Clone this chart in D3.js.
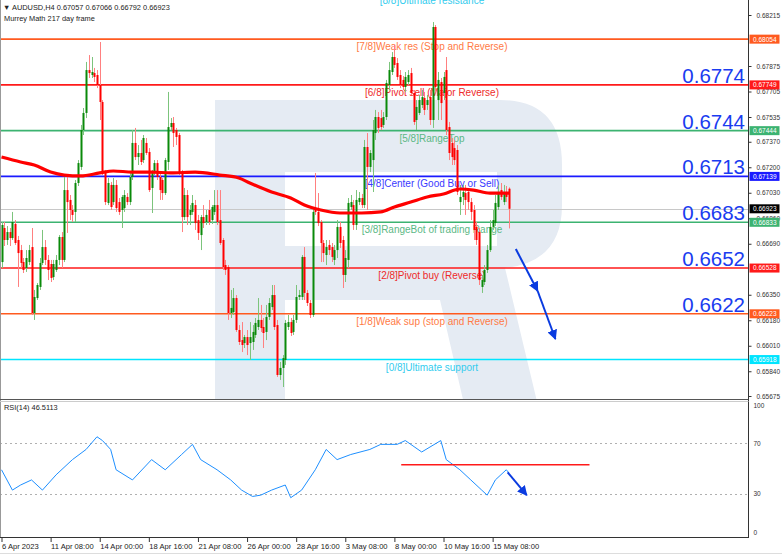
<!DOCTYPE html>
<html><head><meta charset="utf-8">
<script src="https://cdn.jsdelivr.net/npm/d3@7"></script>
<style>body{margin:0;background:#fff;}svg{display:block;}</style>
</head><body>
<svg id="chart" width="782" height="554"></svg>
<script>
// ---------- DATA ----------
// candles: [open, high, low, close]  (AUDUSD H4)
const candles = [
[0.66568,0.66835,0.66528,0.66815],[0.66795,0.66835,0.66675,0.66715],[0.66715,0.66808,0.66682,0.66768],[0.66768,0.66795,0.66675,0.66728],
[0.66728,0.66902,0.66715,0.66835],[0.66822,0.66848,0.66682,0.66695],[0.66715,0.66742,0.66402,0.66628],[0.66648,0.66682,0.66528,0.66562],
[0.66568,0.66595,0.66495,0.66515],[0.66528,0.66648,0.66502,0.66595],[0.66568,0.66682,0.66548,0.66648],[0.66668,0.66795,0.66215,0.66228],
[0.66228,0.66382,0.66182,0.66335],[0.66328,0.66428,0.66315,0.66415],[0.66402,0.66595,0.66382,0.66562],[0.66562,0.66782,0.66548,0.66668],
[0.66668,0.66715,0.66548,0.66582],[0.66582,0.66615,0.66448,0.66515],[0.66555,0.66582,0.66435,0.66462],[0.66468,0.66582,0.66448,0.66555],
[0.66515,0.66615,0.66502,0.66582],[0.66582,0.66748,0.66548,0.66735],[0.66735,0.66768,0.66528,0.66582],[0.66582,0.67135,0.66568,0.67048],
[0.67048,0.67135,0.66762,0.66968],[0.66982,0.67015,0.66848,0.66915],[0.66915,0.66948,0.66835,0.66882],[0.66902,0.67115,0.66835,0.67095],
[0.67095,0.67248,0.67075,0.67228],[0.67202,0.67482,0.67182,0.67448],[0.67448,0.67595,0.67415,0.67562],[0.67562,0.67902,0.67528,0.67848],
[0.67848,0.67948,0.67795,0.67828],[0.67815,0.67935,0.67795,0.67835],[0.67828,0.67862,0.67768,0.67802],[0.67815,0.67848,0.67728,0.67748],
[0.67748,0.68035,0.67515,0.67635],[0.67635,0.67648,0.67148,0.67168],[0.67168,0.67182,0.66948,0.66968],[0.66962,0.67128,0.66948,0.67095],
[0.67082,0.67102,0.66915,0.66935],[0.66968,0.67128,0.66948,0.67082],[0.67082,0.67115,0.66902,0.66928],[0.66968,0.66995,0.66882,0.66902],
[0.66915,0.67015,0.66795,0.67002],[0.66928,0.67048,0.66902,0.67015],[0.67002,0.67028,0.66948,0.66968],[0.66968,0.67168,0.66948,0.67135],
[0.67135,0.67448,0.67115,0.67362],[0.67362,0.67462,0.67248,0.67268],[0.67268,0.67348,0.67215,0.67295],[0.67295,0.67382,0.67215,0.67235],
[0.67248,0.67415,0.67228,0.67395],[0.67362,0.67395,0.67282,0.67295],[0.67302,0.67328,0.67035,0.67048],[0.67062,0.67182,0.66895,0.67162],
[0.67162,0.67248,0.67148,0.67228],[0.67228,0.67248,0.67115,0.67135],[0.67135,0.67162,0.66982,0.67048],[0.67115,0.67128,0.66982,0.67028],
[0.67028,0.67262,0.67015,0.67248],[0.67235,0.67702,0.67182,0.67468],[0.67468,0.67528,0.67448,0.67495],[0.67495,0.67535,0.67335,0.67428],
[0.67448,0.67462,0.67348,0.67402],[0.67415,0.67428,0.67148,0.67162],[0.67162,0.67182,0.66768,0.66868],[0.66868,0.67062,0.66848,0.67015],
[0.67015,0.67048,0.66815,0.66868],[0.66882,0.66948,0.66815,0.66915],[0.66902,0.67015,0.66882,0.66962],[0.66948,0.66982,0.66782,0.66828],
[0.66848,0.66882,0.66715,0.66762],[0.66748,0.66882,0.66648,0.66868],[0.66868,0.66948,0.66795,0.66828],[0.66835,0.66915,0.66815,0.66882],
[0.66915,0.66982,0.66815,0.66835],[0.66848,0.66948,0.66822,0.66935],[0.66902,0.67048,0.66882,0.66948],[0.66948,0.67048,0.66815,0.66835],
[0.66848,0.67048,0.66682,0.66695],[0.66715,0.66728,0.66515,0.66535],[0.66548,0.66582,0.66482,0.66515],[0.66535,0.66548,0.66182,0.66228],
[0.66228,0.66382,0.66195,0.66262],[0.66235,0.66395,0.66215,0.66328],[0.66328,0.66348,0.66102,0.66115],[0.66115,0.66148,0.66015,0.66035],
[0.66048,0.66168,0.65968,0.66015],[0.66028,0.66082,0.65995,0.66068],[0.66068,0.66115,0.65948,0.66015],[0.66028,0.66168,0.65915,0.66068],
[0.66035,0.66148,0.65982,0.66102],[0.66082,0.66195,0.66062,0.66162],[0.66135,0.66328,0.66115,0.66182],[0.66182,0.66282,0.66102,0.66128],
[0.66135,0.66195,0.65995,0.66095],[0.66102,0.66282,0.66048,0.66202],[0.66202,0.66328,0.66182,0.66295],[0.66268,0.66415,0.66248,0.66348],
[0.66348,0.66415,0.66115,0.66135],[0.66148,0.66182,0.65802,0.65815],[0.65815,0.65902,0.65782,0.65862],[0.65862,0.65948,0.65735,0.65928],
[0.65915,0.66182,0.65882,0.66162],[0.66135,0.66215,0.66115,0.66168],[0.66168,0.66195,0.66075,0.66095],[0.66102,0.66215,0.66082,0.66182],
[0.66182,0.66415,0.66162,0.66335],[0.66335,0.66382,0.66315,0.66348],[0.66335,0.66615,0.66315,0.66602],[0.66602,0.66668,0.66315,0.66362],
[0.66362,0.66382,0.66275,0.66295],[0.66295,0.66315,0.66195,0.66215],[0.66215,0.66928,0.66202,0.66902],[0.66915,0.67162,0.66882,0.66902],
[0.66902,0.67028,0.66808,0.66828],[0.66835,0.66848,0.66568,0.66695],[0.66695,0.66715,0.66568,0.66628],[0.66615,0.66715,0.66548,0.66668],
[0.66682,0.66715,0.66615,0.66648],[0.66668,0.66695,0.66568,0.66602],[0.66582,0.66682,0.66548,0.66648],[0.66648,0.66848,0.66595,0.66802],
[0.66802,0.66835,0.66662,0.66695],[0.66715,0.66742,0.66395,0.66482],[0.66482,0.66648,0.66435,0.66595],[0.66582,0.66995,0.66528,0.66962],
[0.66935,0.67015,0.66915,0.66968],[0.66948,0.66982,0.66782,0.66815],[0.66815,0.67048,0.66782,0.66982],[0.66968,0.67035,0.66948,0.66995],
[0.66995,0.67022,0.66928,0.66948],[0.66948,0.67382,0.66928,0.67335],[0.67335,0.67428,0.66915,0.67202],[0.67202,0.67315,0.67168,0.67295],
[0.67248,0.67515,0.67035,0.67448],[0.67428,0.67582,0.67382,0.67535],[0.67535,0.67568,0.67428,0.67462],[0.67528,0.67582,0.67448,0.67468],
[0.67482,0.67568,0.67462,0.67535],[0.67535,0.67782,0.67515,0.67762],[0.67748,0.67902,0.67715,0.67848],[0.67835,0.67968,0.67815,0.67935],
[0.67935,0.68015,0.67862,0.67882],[0.67895,0.67928,0.67782,0.67802],[0.67815,0.67848,0.67728,0.67748],[0.67782,0.67808,0.67715,0.67735],
[0.67735,0.67835,0.67702,0.67802],[0.67768,0.67848,0.67748,0.67815],[0.67828,0.67862,0.67682,0.67695],[0.67695,0.67715,0.67482,0.67502],
[0.67515,0.67648,0.67448,0.67602],[0.67562,0.67682,0.67548,0.67648],[0.67615,0.67715,0.67595,0.67668],[0.67662,0.67702,0.67548,0.67582],
[0.67615,0.67682,0.67582,0.67648],[0.67668,0.67715,0.67482,0.67515],[0.67515,0.68168,0.67462,0.68135],[0.68135,0.68148,0.67702,0.67735],
[0.67648,0.67835,0.67515,0.67782],[0.67768,0.67795,0.67515,0.67628],[0.67695,0.67835,0.67648,0.67802],[0.67848,0.67935,0.67415,0.67448],
[0.67468,0.67502,0.67248,0.67295],[0.67362,0.67395,0.67215,0.67268],[0.67328,0.67382,0.67215,0.67248],[0.67315,0.67348,0.67015,0.67035],
[0.66968,0.67082,0.66882,0.67002],[0.67002,0.67082,0.66948,0.67035],[0.67028,0.67082,0.66882,0.66982],[0.67035,0.67062,0.66915,0.66968],
[0.66968,0.66995,0.66848,0.66902],[0.66915,0.66948,0.66715,0.66782],[0.66802,0.66835,0.66682,0.66715],[0.66768,0.66795,0.66415,0.66448],
[0.66402,0.66482,0.66362,0.66448],[0.66435,0.66548,0.66415,0.66515],[0.66515,0.66682,0.66495,0.66648],[0.66648,0.66848,0.66635,0.66802],
[0.66802,0.66915,0.66782,0.66848],[0.66828,0.67015,0.66808,0.66962],[0.66935,0.67082,0.66915,0.67028],[0.67048,0.67095,0.66982,0.67002],
[0.66968,0.67082,0.66948,0.67035],[0.67035,0.67075,0.66968,0.67002],[0.67057,0.67066,0.66792,0.66923]
];
// moving average (217) sampled at bar indices
const maIdx = [0,7,12,18,23,29,36,41,48,55,62,71,80,87,91,99,106,111,117,124,132,139,144,150,156,162,168,173,179,186];
const maVal = [0.67268,0.67235,0.67215,0.67168,0.67148,0.67142,0.67162,0.67175,0.67168,0.67168,0.67162,0.67168,0.67148,0.67128,0.67095,0.67035,0.66995,0.66948,0.66915,0.66895,0.66895,0.66902,0.66935,0.66968,0.67002,0.67022,0.67055,0.67048,0.67028,0.67028];
// RSI(14) sampled at bar indices
const rsiIdx = [0,4,7,11,15,20,26,31,35,37,40,42,48,55,60,66,70,73,79,84,88,92,95,99,104,106,110,115,119,123,128,135,139,145,148,154,161,163,168,172,176,178,181,185,186];
const rsiVal = [49,33,37,41,33,45,57,65,75,72,65,49,41,57,49,61,69,57,49,41,33,28,29,33,37,27,33,49,65,57,61,65,69,69,72,63,72,57,49,41,33,29,41,49,46.5];
// Murrey Math levels
const mmLevels = [0.68359,0.68054,0.67749,0.67444,0.67139,0.66833,0.66528,0.66223,0.65918];
const mmNames = ["[8/8]Ultimate resistance","[7/8]Weak res (Stop and Reverse)","[6/8]Pivot sell (Major Reverse)","[5/8]RangeTop","[4/8]Center (Good Buy or Sell)","[3/8]RangeBot of trading Range","[2/8]Pivot buy (Reverse)","[1/8]Weak sup (stop and Reverse)","[0/8]Ultimate support"];
const mmColors = ["#00e5ff","#ff5a1f","#ff1a1a","#3cb371","#1a1aff","#3cb371","#ff1a1a","#ff5a1f","#00e5ff"];
const mmTextColors = ["#33ccee","#ff7a45","#ee2a2a","#5cb885","#3a3aff","#5cb885","#ee2a2a","#ff7a45","#33ccee"];
const bigLabels = ["0.6774","0.6744","0.6713","0.6683","0.6652","0.6622"];
const bigLevels = [0.67749,0.67444,0.67139,0.66833,0.66528,0.66223];
const priceTicks = [0.68215,0.67875,0.67705,0.67535,0.67370,0.67200,0.67030,0.66860,0.66690,0.66350,0.66180,0.66010,0.65840,0.65675];
const currentPrice = 0.66923;
const timeLabels = ["6 Apr 2023","11 Apr 08:00","14 Apr 00:00","18 Apr 16:00","21 Apr 08:00","26 Apr 00:00","28 Apr 16:00","3 May 08:00","8 May 00:00","10 May 16:00","15 May 08:00"];
const timeIdx = [0,18,36,54,72,90,108,126,144,162,180];
const rsiTicks = [100,70,30,0];
const rsiLevels = [70,30];
// annotations (bar index, value)
const arrowMain = [[188.5,0.66655],[196.5,0.66375],[203,0.66055]];
const rsiRedLine = [[146.5,53],[215.5,53]];
const arrowRsi = [[185.5,47],[192.5,29]];

// ---------- CHART ----------
const svg = d3.select("#chart");
const W = 782, axisX = 748.5;
const n = candles.length;
const x = d3.scaleLinear().domain([0, n-1]).range([1.5, 509]);
const y = d3.scaleLinear().domain([0.68215, 0.65675]).range([15, 396]);
const yr = d3.scaleLinear().domain([0, 100]).range([532, 405]);
const hf = "Liberation Sans, Arial, sans-serif";

const defs = svg.append("defs");
defs.append("clipPath").attr("id","mainClip").append("rect").attr("x",0).attr("y",0).attr("width",axisX).attr("height",399);
defs.append("clipPath").attr("id","rsiClip").append("rect").attr("x",0).attr("y",401).attr("width",axisX).attr("height",136);
defs.append("marker").attr("id","arrBlue").attr("viewBox","0 0 10 10").attr("refX",9).attr("refY",5)
  .attr("markerWidth",5).attr("markerHeight",5).attr("orient","auto")
  .append("path").attr("d","M0,0 L10,5 L0,10 z").attr("fill","#0a3be0");

// watermark
const main = svg.append("g").attr("clip-path","url(#mainClip)");
main.append("path")
  .attr("d","M215,100 H500 Q562,100 562,165 V205 Q562,262 505,268 L575,560 H500 L440,300 H285 V560 H215 Z M285,172 V246 H497 V172 Z")
  .attr("fill","#e5ebf3").attr("fill-rule","evenodd");

// MM level lines
mmLevels.forEach((v,i)=>{
  main.append("line").attr("x1",0).attr("x2",axisX).attr("y1",y(v)).attr("y2",y(v))
    .attr("stroke",mmColors[i]).attr("stroke-width",1.6);
});
// current price line
main.append("line").attr("x1",0).attr("x2",axisX).attr("y1",Math.round(y(currentPrice))+0.5).attr("y2",Math.round(y(currentPrice))+0.5)
  .attr("stroke","#c8c8c8").attr("stroke-width",1);

// level texts
mmLevels.forEach((v,i)=>{
  main.append("text").attr("x",432).attr("y",y(v)+11).attr("text-anchor","middle")
    .attr("font-family",hf).attr("font-size",10)
    .attr("fill",mmTextColors[i]).text(mmNames[i]);
});

// candles
const cg = main.append("g");
candles.forEach((c,i)=>{
  const [o,h,l,cl] = c;
  const up = cl >= o;
  const xc = Math.round(x(i)) + 0.5;
  cg.append("line").attr("x1",xc).attr("x2",xc).attr("y1",y(h)).attr("y2",y(l))
    .attr("stroke", up ? "#7cc47c" : "#ff8080").attr("stroke-width",1);
  const top = y(Math.max(o,cl)), bot = y(Math.min(o,cl));
  cg.append("rect").attr("x",xc-1).attr("y",top).attr("width",2).attr("height",Math.max(1,bot-top))
    .attr("fill", up ? "#0a8a0a" : "#ff0000");
});

// MA line
main.append("path").datum(maIdx.map((d,i)=>[d,maVal[i]]))
  .attr("d", d3.line().x(d=>x(d[0])).y(d=>y(d[1])).curve(d3.curveMonotoneX))
  .attr("fill","none").attr("stroke","#ff0000").attr("stroke-width",3.2);

// big labels
bigLabels.forEach((t,i)=>{
  main.append("text").attr("x",745).attr("y",y(bigLevels[i])-2).attr("text-anchor","end")
    .attr("font-family",hf).attr("font-size",20.5)
    .attr("fill","#1a3cf0").text(t);
});

// main arrow
[arrowMain.slice(0,2), arrowMain.slice(1)].forEach(seg=>{
  svg.append("path").datum(seg)
    .attr("d", d3.line().x(d=>x(d[0])).y(d=>y(d[1])))
    .attr("stroke","#0a3be0").attr("stroke-width",2).attr("fill","none").attr("marker-end","url(#arrBlue)");
});

// header texts
svg.append("text").attr("x",3).attr("y",10).attr("font-family",hf).attr("font-size",7.4).attr("fill","#222")
  .text("\u25BC AUDUSD,H4  0.67057 0.67066 0.66792 0.66923");
svg.append("text").attr("x",4).attr("y",21).attr("font-family",hf).attr("font-size",7.4).attr("fill","#222")
  .text("Murrey Math 217 day frame");

// ---------- RSI panel ----------
const rg = svg.append("g").attr("clip-path","url(#rsiClip)");
rsiLevels.forEach(v=>{
  rg.append("line").attr("x1",0).attr("x2",axisX).attr("y1",Math.round(yr(v))+0.5).attr("y2",Math.round(yr(v))+0.5)
    .attr("stroke","#b0b0b0").attr("stroke-dasharray","2,3");
});
rg.append("path").datum(rsiIdx.map((d,i)=>[d,rsiVal[i]]))
  .attr("d", d3.line().x(d=>x(d[0])).y(d=>yr(d[1])))
  .attr("fill","none").attr("stroke","#1e8fff").attr("stroke-width",1);
rg.append("path").datum(rsiRedLine)
  .attr("d", d3.line().x(d=>x(d[0])).y(d=>yr(d[1])))
  .attr("stroke","#ff1a1a").attr("stroke-width",1.6);
svg.append("path").datum(arrowRsi)
  .attr("d", d3.line().x(d=>x(d[0])).y(d=>yr(d[1])))
  .attr("stroke","#0a3be0").attr("stroke-width",2).attr("fill","none").attr("marker-end","url(#arrBlue)");
svg.append("text").attr("x",4).attr("y",410).attr("font-family",hf).attr("font-size",7.4).attr("fill","#222")
  .text("RSI(14) 46.5113");

// ---------- frames & axes ----------
svg.append("line").attr("x1",0.5).attr("x2",0.5).attr("y1",0).attr("y2",538).attr("stroke","#999").attr("stroke-width",1);
svg.append("line").attr("x1",axisX).attr("x2",axisX).attr("y1",0).attr("y2",538).attr("stroke","#333");
svg.append("line").attr("x1",0).attr("x2",axisX).attr("y1",399.5).attr("y2",399.5).attr("stroke","#555");
svg.append("line").attr("x1",0).attr("x2",axisX).attr("y1",401.5).attr("y2",401.5).attr("stroke","#ccc");
svg.append("line").attr("x1",0).attr("x2",axisX).attr("y1",537.5).attr("y2",537.5).attr("stroke","#333");
svg.append("line").attr("x1",0).attr("x2",W).attr("y1",553.5).attr("y2",553.5).attr("stroke","#ddd");

// price axis
const pa = svg.append("g").attr("transform",`translate(${axisX},0)`)
  .call(d3.axisRight(y).tickValues(priceTicks).tickSize(3).tickPadding(5).tickFormat(d3.format(".5f")));
pa.select(".domain").remove();
pa.selectAll("text").attr("font-family",hf).attr("font-size",6.5).attr("fill","#333");
pa.selectAll("line").attr("stroke","#333");

// level value boxes
const boxVals = mmLevels.slice(1).concat([currentPrice]);
const boxCols = mmColors.slice(1).concat(["#000"]);
boxVals.forEach((v,i)=>{
  const yy = y(v);
  svg.append("rect").attr("x",axisX+1).attr("y",yy-4.5).attr("width",30).attr("height",9).attr("fill",boxCols[i]);
  svg.append("text").attr("x",axisX+4.5).attr("y",yy+2.4).attr("font-family",hf).attr("font-size",6.5)
    .attr("fill","#fff").text(d3.format(".5f")(v));
});

// rsi axis
const ra = svg.append("g").attr("transform",`translate(${axisX},0)`)
  .call(d3.axisRight(yr).tickValues(rsiTicks).tickSize(0).tickPadding(5));
ra.select(".domain").remove();
ra.selectAll("text").attr("font-family",hf).attr("font-size",6.5).attr("fill","#333");

// time axis
const ta = svg.append("g").attr("transform","translate(0,538)")
  .call(d3.axisBottom(x).tickValues(timeIdx).tickSize(4).tickPadding(2).tickFormat((d,i)=>timeLabels[i]));
ta.select(".domain").remove();
ta.selectAll("line").attr("stroke","#333");
ta.selectAll("text").attr("font-family",hf).attr("font-size",7.6).attr("fill","#222").attr("text-anchor","start").attr("dx",0);
</script>
</body></html>
